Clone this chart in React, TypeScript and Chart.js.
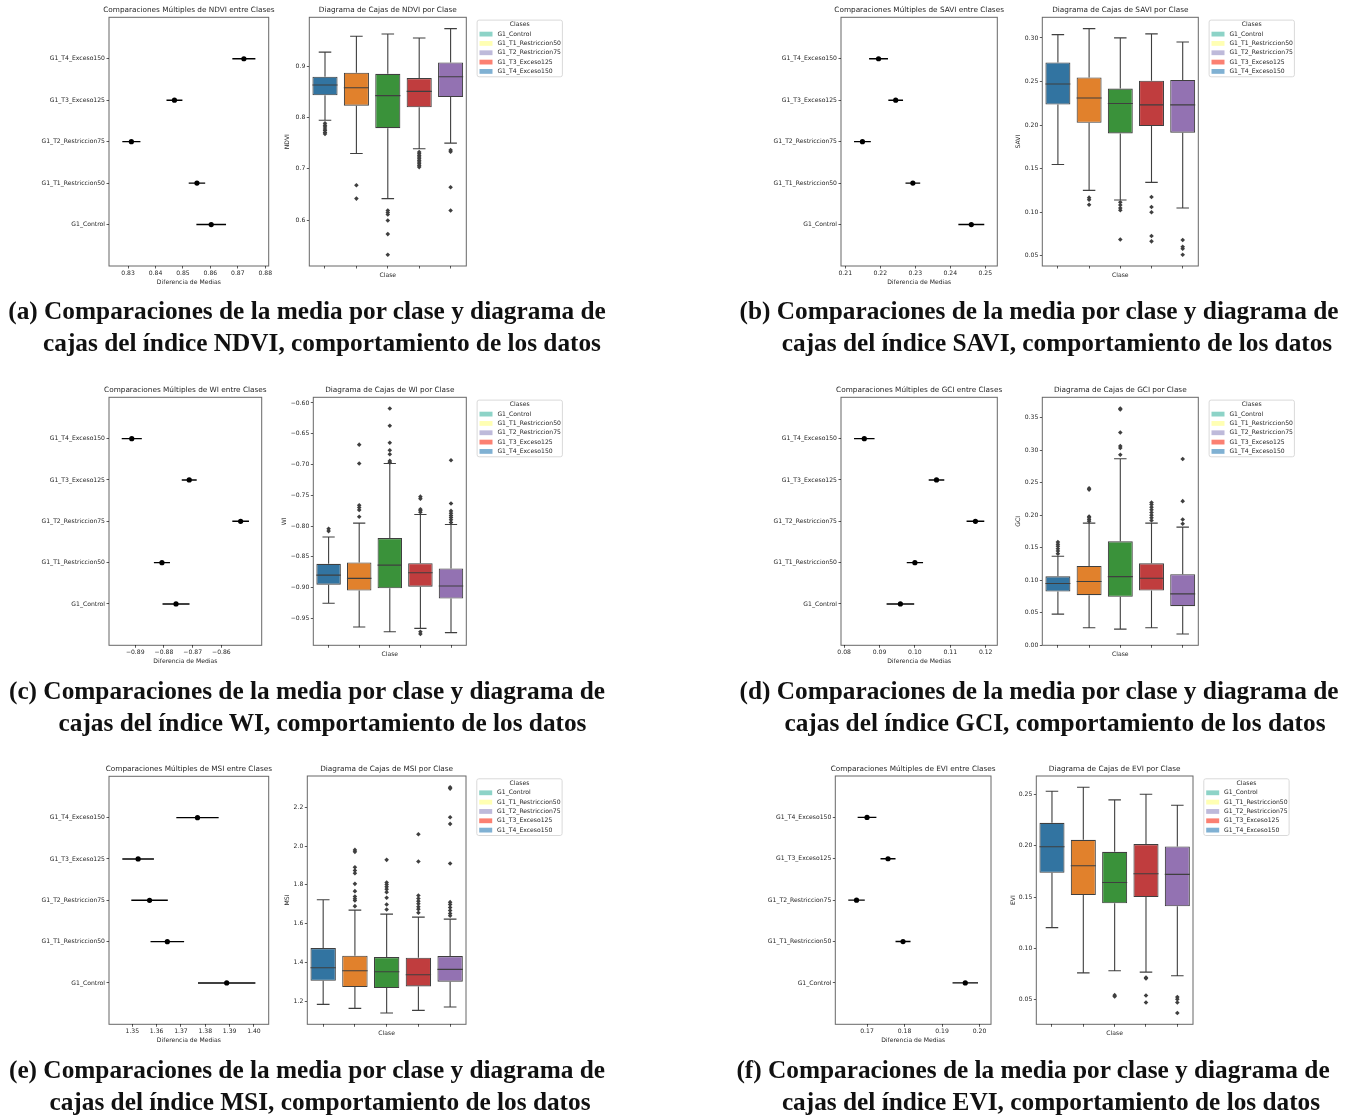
import React, { useEffect, useRef } from 'react';
import { Chart, registerables } from 'chart.js';

Chart.register(...registerables);

const FONT_FAMILY = '"DejaVu Sans", sans-serif';
const INK = '#262626';
const EDGE = '#3f3f3f';
const SPINE = 'rgba(0,0,0,0.6)';

Chart.defaults.font.family = FONT_FAMILY;
Chart.defaults.color = INK;

// ---------------------------------------------------------------- data
const CLASSES = ['G1_Control', 'G1_T1_Restriccion50', 'G1_T2_Restriccion75', 'G1_T3_Exceso125', 'G1_T4_Exceso150'];
const BOX_COLORS = ['#3274a1', '#e1812c', '#3a923a', '#c03d3e', '#9372b2'];
const LEGEND_COLORS = ['#8dd3c7', '#ffffb3', '#bebada', '#fb8072', '#80b1d3'];

// group means and simultaneous confidence half-widths (order = CLASSES)
const NDVI_MEANS = [0.8603, 0.8551, 0.8312, 0.8469, 0.8722];
const NDVI_HALF_CI = [0.0054, 0.0030, 0.0033, 0.0029, 0.0042];
const NDVI_MEAN_TICKS = [0.83, 0.84, 0.85, 0.86, 0.87, 0.88];
// box stats per class: [lower whisker, Q1, median, Q3, upper whisker]
const NDVI_BOXES = [
  [0.795, 0.8436, 0.8637, 0.8799, 0.9279],
  [0.7302, 0.8235, 0.8585, 0.8877, 0.959],
  [0.642, 0.7795, 0.843, 0.8857, 0.9635],
  [0.7393, 0.8203, 0.8514, 0.8773, 0.9557],
  [0.7503, 0.8404, 0.88, 0.9078, 0.9739],
];
const NDVI_OUTLIERS = [
  [0.789, 0.785, 0.782, 0.778, 0.775, 0.771, 0.768],
  [0.668, 0.642],
  [0.6187, 0.6148, 0.611, 0.5993, 0.5727, 0.5325],
  [0.7328, 0.7296, 0.7263, 0.723, 0.7198, 0.7166, 0.7133, 0.7101, 0.7068, 0.7035],
  [0.7367, 0.7334, 0.6641, 0.6187],
];
const NDVI_BOX_TICKS = [0.6, 0.7, 0.8, 0.9];

const SAVI_MEANS = [0.246, 0.2293, 0.2149, 0.2244, 0.2195];
const SAVI_HALF_CI = [0.0037, 0.0021, 0.0024, 0.0021, 0.0027];
const SAVI_MEAN_TICKS = [0.21, 0.22, 0.23, 0.24, 0.25];
const SAVI_BOXES = [
  [0.1546, 0.2235, 0.2471, 0.2718, 0.3038],
  [0.125, 0.2026, 0.2311, 0.2547, 0.3107],
  [0.1139, 0.1904, 0.2247, 0.2418, 0.3],
  [0.1341, 0.1988, 0.2231, 0.2509, 0.3046],
  [0.1048, 0.1912, 0.2231, 0.2517, 0.2954],
];
const SAVI_OUTLIERS = [
  [],
  [0.1166, 0.1143, 0.1085],
  [0.1113, 0.1082, 0.1048, 0.1021, 0.0686],
  [0.1174, 0.1059, 0.0998, 0.0725, 0.0664],
  [0.0679, 0.0603, 0.058, 0.0511],
];
const SAVI_BOX_TICKS = [0.05, 0.1, 0.15, 0.2, 0.25, 0.3];

const WI_MEANS = [-0.8758, -0.8807, -0.8533, -0.8712, -0.8912];
const WI_HALF_CI = [0.0047, 0.0028, 0.0029, 0.0026, 0.0035];
const WI_MEAN_TICKS = [-0.89, -0.88, -0.87, -0.86];
const WI_BOXES = [
  [-0.9253, -0.8952, -0.8796, -0.8613, -0.8177],
  [-0.964, -0.9048, -0.8849, -0.8591, -0.7952],
  [-0.9715, -0.9011, -0.8634, -0.8194, -0.6984],
  [-0.9661, -0.8984, -0.8758, -0.8602, -0.7812],
  [-0.9731, -0.9177, -0.8973, -0.8688, -0.7973],
];
const WI_OUTLIERS = [
  [-0.8043, -0.8081],
  [-0.6677, -0.6984, -0.7661, -0.7699, -0.7737, -0.7849],
  [-0.6091, -0.6371, -0.6645, -0.6769, -0.6833, -0.6941, -0.6968],
  [-0.7522, -0.7554, -0.7726, -0.7747, -0.7774, -0.9715, -0.9753],
  [-0.693, -0.7634, -0.7753, -0.779, -0.7828, -0.786, -0.7898, -0.7941],
];
const WI_BOX_TICKS = [-0.95, -0.9, -0.85, -0.8, -0.75, -0.7, -0.65, -0.6];

const GCI_MEANS = [0.0959, 0.1, 0.1171, 0.1061, 0.0857];
const GCI_HALF_CI = [0.0039, 0.0023, 0.0025, 0.0022, 0.0029];
const GCI_MEAN_TICKS = [0.08, 0.09, 0.1, 0.11, 0.12];
const GCI_BOXES = [
  [0.048, 0.0827, 0.095, 0.1062, 0.1369],
  [0.0271, 0.0771, 0.0981, 0.1221, 0.1879],
  [0.025, 0.0746, 0.1057, 0.1599, 0.287],
  [0.0271, 0.0843, 0.1032, 0.1261, 0.1879],
  [0.0174, 0.0603, 0.0792, 0.1093, 0.1818],
];
const GCI_OUTLIERS = [
  [0.1588, 0.1553, 0.1522, 0.1486, 0.145, 0.141],
  [0.2416, 0.2395, 0.1982, 0.1961, 0.1936, 0.191],
  [0.3641, 0.3626, 0.3274, 0.3064, 0.3035, 0.2932],
  [0.2196, 0.2165, 0.2125, 0.2084, 0.2043, 0.2002, 0.1961, 0.192],
  [0.2865, 0.2217, 0.1936, 0.1869],
];
const GCI_BOX_TICKS = [0, 0.05, 0.1, 0.15, 0.2, 0.25, 0.3, 0.35];

const MSI_MEANS = [1.3888, 1.3644, 1.3571, 1.3524, 1.3768];
const MSI_HALF_CI = [0.0118, 0.0069, 0.0075, 0.0065, 0.0087];
const MSI_MEAN_TICKS = [1.35, 1.36, 1.37, 1.38, 1.39, 1.4];
const MSI_BOXES = [
  [1.1846, 1.3063, 1.3732, 1.4744, 1.7232],
  [1.164, 1.2738, 1.3578, 1.435, 1.67],
  [1.14, 1.2686, 1.3527, 1.4281, 1.6494],
  [1.1537, 1.2772, 1.3373, 1.4247, 1.634],
  [1.1709, 1.3012, 1.3647, 1.4333, 1.6237],
];
const MSI_OUTLIERS = [
  [],
  [1.9804, 1.9702, 1.8912, 1.8741, 1.8604, 1.8055, 1.7678, 1.7403, 1.7283, 1.7197, 1.6906],
  [1.929, 1.8124, 1.8021, 1.79, 1.7781, 1.7626, 1.7335, 1.6991, 1.6734],
  [2.0611, 1.9204, 1.7455, 1.73, 1.7163, 1.7026, 1.6871, 1.6751, 1.6563],
  [2.3029, 2.2961, 2.1485, 2.1142, 1.9101, 1.7111, 1.6991, 1.6837, 1.6683, 1.6528, 1.6408],
];
const MSI_BOX_TICKS = [1.2, 1.4, 1.6, 1.8, 2.0, 2.2];

const EVI_MEANS = [0.1962, 0.1796, 0.1672, 0.1756, 0.17];
const EVI_HALF_CI = [0.0034, 0.002, 0.0022, 0.002, 0.0025];
const EVI_MEAN_TICKS = [0.17, 0.18, 0.19, 0.2];
const EVI_BOXES = [
  [0.1202, 0.1736, 0.1989, 0.2222, 0.2529],
  [0.0762, 0.1519, 0.1804, 0.2057, 0.2568],
  [0.0782, 0.1439, 0.1642, 0.194, 0.2445],
  [0.0769, 0.15, 0.1727, 0.2015, 0.25],
  [0.0733, 0.1409, 0.172, 0.1992, 0.2393],
];
const EVI_OUTLIERS = [
  [],
  [],
  [0.0545, 0.0532],
  [0.0717, 0.0707, 0.0542, 0.0474],
  [0.0526, 0.0506, 0.0474, 0.0371],
];
const EVI_BOX_TICKS = [0.05, 0.1, 0.15, 0.2, 0.25];

const CAPTION_HEAD = 'Comparaciones de la media por clase y diagrama de';

// ---------------------------------------------------------------- layout
type Rect = { l: number; t: number; r: number; b: number };

type PanelSpec = {
  index: string;
  letter: string;
  means: number[];
  halfCi: number[];
  meanTicks: number[];
  meanDigits: number;
  boxes: number[][];
  outliers: number[][];
  boxTicks: number[];
  boxDigits: number;
  meanAxes: Rect;
  boxAxes: Rect;
  yTitleGap: number;
  caption: { x1: number; x2: number; y1: number; y2: number };
};

const PANELS: PanelSpec[] = [
  {
    index: 'NDVI', letter: 'a', means: NDVI_MEANS, halfCi: NDVI_HALF_CI, meanTicks: NDVI_MEAN_TICKS, meanDigits: 2,
    boxes: NDVI_BOXES, outliers: NDVI_OUTLIERS, boxTicks: NDVI_BOX_TICKS, boxDigits: 1,
    meanAxes: { l: 109, t: 17.3, r: 268.7, b: 266 }, boxAxes: { l: 309.3, t: 17.3, r: 466.3, b: 266 }, yTitleGap: 22,
    caption: { x1: 307, x2: 322, y1: 319, y2: 351 },
  },
  {
    index: 'SAVI', letter: 'b', means: SAVI_MEANS, halfCi: SAVI_HALF_CI, meanTicks: SAVI_MEAN_TICKS, meanDigits: 2,
    boxes: SAVI_BOXES, outliers: SAVI_OUTLIERS, boxTicks: SAVI_BOX_TICKS, boxDigits: 2,
    meanAxes: { l: 841, t: 17.3, r: 997.3, b: 266 }, boxAxes: { l: 1042.3, t: 17.3, r: 1198.3, b: 266 }, yTitleGap: 24,
    caption: { x1: 1039, x2: 1057, y1: 319, y2: 351 },
  },
  {
    index: 'WI', letter: 'c', means: WI_MEANS, halfCi: WI_HALF_CI, meanTicks: WI_MEAN_TICKS, meanDigits: 2,
    boxes: WI_BOXES, outliers: WI_OUTLIERS, boxTicks: WI_BOX_TICKS, boxDigits: 2,
    meanAxes: { l: 109, t: 397.3, r: 261.7, b: 645.3 }, boxAxes: { l: 313.3, t: 397.3, r: 466.3, b: 645.3 }, yTitleGap: 29.3,
    caption: { x1: 307, x2: 322.5, y1: 699, y2: 731 },
  },
  {
    index: 'GCI', letter: 'd', means: GCI_MEANS, halfCi: GCI_HALF_CI, meanTicks: GCI_MEAN_TICKS, meanDigits: 2,
    boxes: GCI_BOXES, outliers: GCI_OUTLIERS, boxTicks: GCI_BOX_TICKS, boxDigits: 2,
    meanAxes: { l: 841, t: 397.3, r: 997.3, b: 645.3 }, boxAxes: { l: 1042.3, t: 397.3, r: 1198.3, b: 645.3 }, yTitleGap: 24,
    caption: { x1: 1039, x2: 1055, y1: 699, y2: 731 },
  },
  {
    index: 'MSI', letter: 'e', means: MSI_MEANS, halfCi: MSI_HALF_CI, meanTicks: MSI_MEAN_TICKS, meanDigits: 2,
    boxes: MSI_BOXES, outliers: MSI_OUTLIERS, boxTicks: MSI_BOX_TICKS, boxDigits: 1,
    meanAxes: { l: 109, t: 776.3, r: 268.7, b: 1024.3 }, boxAxes: { l: 307.3, t: 776, r: 466, b: 1024.3 }, yTitleGap: 19.6,
    caption: { x1: 307, x2: 320, y1: 1078, y2: 1110 },
  },
  {
    index: 'EVI', letter: 'f', means: EVI_MEANS, halfCi: EVI_HALF_CI, meanTicks: EVI_MEAN_TICKS, meanDigits: 2,
    boxes: EVI_BOXES, outliers: EVI_OUTLIERS, boxTicks: EVI_BOX_TICKS, boxDigits: 2,
    meanAxes: { l: 835.3, t: 776, r: 991, b: 1024.3 }, boxAxes: { l: 1036.3, t: 776, r: 1193, b: 1024.3 }, yTitleGap: 23,
    caption: { x1: 1033, x2: 1051, y1: 1078, y2: 1110 },
  },
];

const TICK_FONT = 6.1;
const TITLE_FONT = 7.3;
const TITLE_PAD_BOTTOM = 2.6;
const TITLE_H = TITLE_FONT * 1.2 + TITLE_PAD_BOTTOM;
const MEAN_Y_W = 104;
const MEAN_X_H = 19.7;
const BOX_X_H = 13;
const LEGEND_ROOM = 100;

type Placement = { x: number; y: number; w: number; h: number; pad: { left: number; top: number; right: number; bottom: number } };

function place(ax: Rect, leftBox: number, rightBox: number, topBox: number, bottomBox: number, extraRight: number): Placement {
  const x = Math.floor(ax.l - leftBox) - 2;
  const y = Math.floor(ax.t - topBox) - 1;
  const x1 = Math.ceil(ax.r + rightBox + extraRight) + 2;
  const y1 = Math.ceil(ax.b + bottomBox) + 2;
  return {
    x, y, w: x1 - x, h: y1 - y,
    pad: { left: ax.l - leftBox - x, top: ax.t - topBox - y, right: x1 - (ax.r + rightBox), bottom: y1 - (ax.b + bottomBox) },
  };
}

const fmt = (v: number, digits: number) => v.toFixed(digits).replace('-', '\u2212');

function paddedRange(values: number[], frac: number): [number, number] {
  const lo = Math.min(...values);
  const hi = Math.max(...values);
  const m = (hi - lo) * frac;
  return [lo - m, hi + m];
}

// ---------------------------------------------------------------- plugins
const axesFrame = {
  id: 'axesFrame',
  afterDatasetsDraw(chart: any) {
    const { ctx, chartArea } = chart;
    ctx.save();
    ctx.strokeStyle = SPINE;
    ctx.lineWidth = 1;
    ctx.strokeRect(chartArea.left, chartArea.top, chartArea.right - chartArea.left, chartArea.bottom - chartArea.top);
    ctx.restore();
  },
};

function whiskerPlugin(stats: number[][]) {
  return {
    id: 'boxWhiskers',
    afterDatasetsDraw(chart: any) {
      const { ctx } = chart;
      const xs = chart.scales.x;
      const ys = chart.scales.y;
      const bars = chart.getDatasetMeta(0).data;
      ctx.save();
      ctx.strokeStyle = EDGE;
      ctx.lineWidth = 1.1;
      stats.forEach((s, i) => {
        const cx = xs.getPixelForValue(i);
        const half = bars[i].width / 2;
        const [lo, q1, med, q3, hi] = s.map((v) => ys.getPixelForValue(v));
        ctx.beginPath();
        ctx.moveTo(cx, q1); ctx.lineTo(cx, lo);
        ctx.moveTo(cx, q3); ctx.lineTo(cx, hi);
        ctx.moveTo(cx - half / 2, lo); ctx.lineTo(cx + half / 2, lo);
        ctx.moveTo(cx - half / 2, hi); ctx.lineTo(cx + half / 2, hi);
        ctx.moveTo(cx - half, med); ctx.lineTo(cx + half, med);
        ctx.stroke();
      });
      ctx.restore();
    },
  };
}

function classLegend(labels: string[], colors: string[], title: string) {
  return {
    id: 'classLegend',
    afterDraw(chart: any) {
      const { ctx, chartArea } = chart;
      const x = chartArea.right + 10.8;
      const y = chartArea.top + 2.8;
      const w = 85.3;
      const h = 56.7;
      ctx.save();
      ctx.beginPath();
      ctx.roundRect(x, y, w, h, 2);
      ctx.fillStyle = 'rgba(255,255,255,0.8)';
      ctx.fill();
      ctx.strokeStyle = '#d9d9d9';
      ctx.lineWidth = 1;
      ctx.stroke();
      ctx.font = `${TICK_FONT}px ${FONT_FAMILY}`;
      ctx.textBaseline = 'middle';
      ctx.fillStyle = INK;
      ctx.textAlign = 'center';
      ctx.fillText(title, x + w / 2, y + 4.8);
      ctx.textAlign = 'left';
      labels.forEach((lab, i) => {
        const cy = y + 14 + i * 9.33;
        ctx.fillStyle = colors[i];
        ctx.fillRect(x + 2.4, cy - 2.4, 13, 4.8);
        ctx.fillStyle = INK;
        ctx.fillText(lab, x + 20.3, cy);
      });
      ctx.restore();
    },
  };
}

const tickGrid = {
  display: true,
  drawOnChartArea: false,
  drawTicks: true,
  tickLength: 2.5,
  tickColor: '#333',
  tickWidth: 0.8,
};

// ---------------------------------------------------------------- chart configs
function meanConfig(p: PanelSpec, pl: Placement) {
  const lo = p.means.map((m, i) => m - p.halfCi[i]);
  const hi = p.means.map((m, i) => m + p.halfCi[i]);
  const [xMin, xMax] = paddedRange([...lo, ...hi], 0.1);
  const ciLines = p.means.map((m, i) => ({
    type: 'line',
    data: [{ x: lo[i], y: i }, { x: hi[i], y: i }],
    borderColor: '#000',
    borderWidth: 1.4,
    pointRadius: 0,
    showLine: true,
    fill: false,
  }));
  return {
    type: 'scatter',
    data: {
      datasets: [
        ...ciLines,
        {
          type: 'scatter',
          data: p.means.map((m, i) => ({ x: m, y: i })),
          pointRadius: 2.6,
          pointStyle: 'circle',
          backgroundColor: '#000',
          borderColor: '#000',
          borderWidth: 0,
        },
      ],
    },
    options: {
      responsive: false,
      animation: false,
      events: [],
      layout: { padding: pl.pad, autoPadding: false },
      plugins: {
        legend: { display: false },
        tooltip: { enabled: false },
        title: {
          display: true,
          text: `Comparaciones Múltiples de ${p.index} entre Clases`,
          fullSize: true,
          font: { size: TITLE_FONT, weight: 'normal' },
          color: INK,
          padding: { top: 0, bottom: TITLE_PAD_BOTTOM },
        },
      },
      scales: {
        x: {
          type: 'linear',
          min: xMin,
          max: xMax,
          bounds: 'data',
          afterBuildTicks: (s: any) => { s.ticks = p.meanTicks.map((v) => ({ value: v })); },
          ticks: { callback: (v: any) => fmt(Number(v), p.meanDigits), font: { size: TICK_FONT }, color: INK, padding: 1, autoSkip: false, maxRotation: 0 },
          grid: tickGrid,
          border: { display: false },
          title: { display: true, text: 'Diferencia de Medias', font: { size: TICK_FONT }, color: INK, padding: 0 },
          afterFit: (s: any) => { s.height = MEAN_X_H; s.paddingLeft = 0; s.paddingRight = 0; },
        },
        y: {
          type: 'linear',
          min: -1,
          max: 5,
          bounds: 'data',
          afterBuildTicks: (s: any) => { s.ticks = CLASSES.map((_, i) => ({ value: i })); },
          ticks: { callback: (v: any) => CLASSES[Number(v)], font: { size: TICK_FONT }, color: INK, padding: 1.5, autoSkip: false },
          grid: tickGrid,
          border: { display: false },
          afterFit: (s: any) => { s.width = MEAN_Y_W; s.paddingTop = 0; s.paddingBottom = 0; },
        },
        yRight: {
          type: 'linear',
          position: 'right',
          display: true,
          ticks: { display: false },
          grid: { display: false },
          border: { display: false },
          afterFit: (s: any) => { s.width = MEAN_Y_W; s.paddingTop = 0; s.paddingBottom = 0; },
        },
      },
    },
    plugins: [axesFrame],
  };
}

function boxConfig(p: PanelSpec, pl: Placement, yW: number) {
  const [yMin, yMax] = paddedRange([...p.boxes.flat(), ...p.outliers.flat()], 0.05);
  const fliers = p.outliers.flatMap((arr, i) => arr.map((v) => ({ x: CLASSES[i], y: v })));
  return {
    type: 'bar',
    data: {
      labels: CLASSES,
      datasets: [
        {
          type: 'bar',
          data: p.boxes.map((b) => [b[1], b[3]]),
          backgroundColor: BOX_COLORS,
          borderColor: EDGE,
          borderWidth: 1.1,
          borderSkipped: false,
          barPercentage: 0.8,
          categoryPercentage: 1,
        },
        {
          type: 'scatter',
          xAxisID: 'x',
          yAxisID: 'y',
          data: fliers,
          pointStyle: 'rectRot',
          pointRadius: 2.3,
          backgroundColor: EDGE,
          borderColor: EDGE,
          borderWidth: 0,
          showLine: false,
        },
      ],
    },
    options: {
      responsive: false,
      animation: false,
      events: [],
      layout: { padding: pl.pad, autoPadding: false },
      plugins: {
        legend: { display: false },
        tooltip: { enabled: false },
        title: {
          display: true,
          text: `Diagrama de Cajas de ${p.index} por Clase`,
          fullSize: false,
          font: { size: TITLE_FONT, weight: 'normal' },
          color: INK,
          padding: { top: 0, bottom: TITLE_PAD_BOTTOM },
        },
      },
      scales: {
        x: {
          type: 'category',
          offset: true,
          grid: { ...tickGrid, offset: false },
          border: { display: false },
          ticks: { callback: () => '', autoSkip: false, maxRotation: 0, padding: 0 },
          title: { display: true, text: 'Clase', font: { size: TICK_FONT }, color: INK, padding: 0 },
          afterFit: (s: any) => { s.height = BOX_X_H; s.paddingLeft = 0; s.paddingRight = 0; },
        },
        y: {
          type: 'linear',
          min: yMin,
          max: yMax,
          bounds: 'data',
          afterBuildTicks: (s: any) => { s.ticks = p.boxTicks.map((v) => ({ value: v })); },
          ticks: { callback: (v: any) => fmt(Number(v), p.boxDigits), font: { size: TICK_FONT }, color: INK, padding: 1.5, autoSkip: false },
          grid: tickGrid,
          border: { display: false },
          title: { display: true, text: p.index, font: { size: TICK_FONT }, color: INK, padding: 0 },
          afterFit: (s: any) => { s.width = yW; s.paddingTop = 0; s.paddingBottom = 0; },
        },
      },
    },
    plugins: [whiskerPlugin(p.boxes), axesFrame, classLegend(CLASSES, LEGEND_COLORS, 'Clases')],
  };
}

// ---------------------------------------------------------------- components
function ChartCanvas({ placement, build }: { placement: Placement; build: () => any }) {
  const ref = useRef<HTMLCanvasElement | null>(null);
  useEffect(() => {
    const chart = new Chart(ref.current as HTMLCanvasElement, build());
    return () => chart.destroy();
  }, []);
  return (
    <div style={{ position: 'absolute', left: placement.x, top: placement.y, width: placement.w, height: placement.h }}>
      <canvas
        ref={ref}
        width={placement.w}
        height={placement.h}
        style={{ display: 'block', width: placement.w, height: placement.h }}
      />
    </div>
  );
}

function Panel({ p }: { p: PanelSpec }) {
  const meanPl = place(p.meanAxes, MEAN_Y_W, MEAN_Y_W, TITLE_H, MEAN_X_H, 0);
  const yW = p.yTitleGap + TICK_FONT * 0.6;
  const boxPl = place(p.boxAxes, yW, 0, TITLE_H, BOX_X_H, LEGEND_ROOM);
  return (
    <>
      <ChartCanvas placement={meanPl} build={() => meanConfig(p, meanPl)} />
      <ChartCanvas placement={boxPl} build={() => boxConfig(p, boxPl, yW)} />
    </>
  );
}

export default function App() {
  return (
    <div style={{ position: 'absolute', left: 0, top: 0, width: 1354, height: 1117, background: '#ffffff', overflow: 'hidden' }}>
      {PANELS.map((p) => (
        <Panel key={p.index} p={p} />
      ))}
      <svg
        width={1354}
        height={1117}
        style={{ position: 'absolute', left: 0, top: 0, pointerEvents: 'none' }}
      >
        {PANELS.map((p) => (
          <g key={p.index} fontFamily='"Liberation Serif", serif' fontWeight="bold" fontSize={25.3} fill="#111" textAnchor="middle">
            <text x={p.caption.x1} y={p.caption.y1}>{`(${p.letter}) ${CAPTION_HEAD}`}</text>
            <text x={p.caption.x2} y={p.caption.y2}>{`cajas del índice ${p.index}, comportamiento de los datos`}</text>
          </g>
        ))}
      </svg>
    </div>
  );
}
